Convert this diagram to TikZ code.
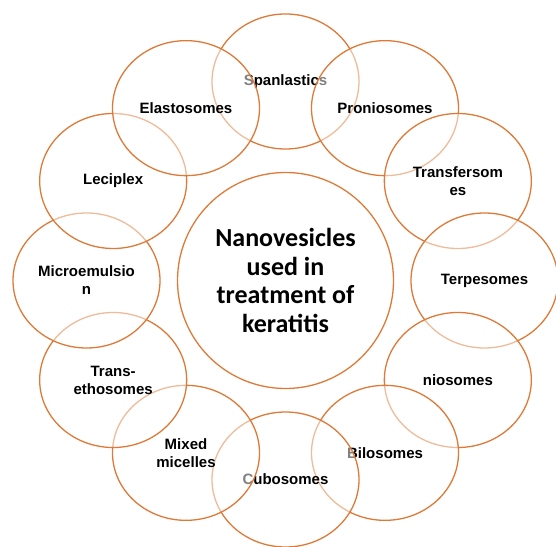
\documentclass[tikz,border=0pt]{standalone}
\usepackage{fontspec}
\setmainfont{Liberation Sans}
\newfontfamily\hubfont{Carlito}
\usetikzlibrary{shapes.geometric,calc}
\definecolor{ringorange}{RGB}{222,122,56}

\begin{document}
\begin{tikzpicture}[x=1pt, y=1pt, font=\bfseries\fontsize{15}{18}\selectfont,
    vesicle/.style={ellipse, draw=ringorange, line width=1.3pt, fill=white,
      fill opacity=0.5, text opacity=1, minimum width=147pt, minimum height=135pt,
      inner sep=0pt, align=center}]
  \useasboundingbox (0,0) rectangle (556,546);
  \node[circle, draw=ringorange, line width=1.3pt, minimum size=216pt, inner sep=0pt,
    align=center, font=\hubfont\bfseries\fontsize{26}{28.5}\selectfont] (hub) at (285.5,265.5)
    {Nanovesicles\\used in\\treatment of\\keratitis};
  % clockwise from the top, each one laid over the one before
  \foreach \a/\t [count=\i] in {90/Spanlastics, 60/Proniosomes, 30/{Transfersom\\es},
      0/Terpesomes, -30/niosomes, -60/Bilosomes, -90/Cubosomes, -120/{Mixed\\micelles},
      -150/{Trans-\\ethosomes}, 180/{Microemulsio\\n}, 150/Leciplex, 120/Elastosomes}
    \node[vesicle] (v\i) at ($(hub.center)+(\a:199)$) {\t};
\end{tikzpicture}
\end{document}
